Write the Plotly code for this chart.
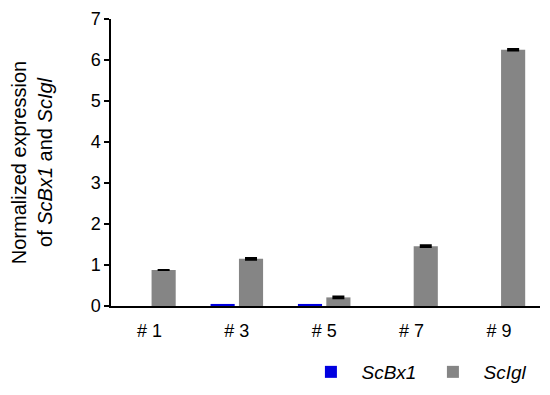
import plotly.graph_objects as go

categories = ["# 1", "# 3", "# 5", "# 7", "# 9"]
scbx1 = [0.0, 0.05, 0.05, 0.0, 0.0]
scigl = [0.88, 1.15, 0.21, 1.46, 6.25]
scigl_err = [0.0, 0.02, 0.02, 0.02, 0.02]

fig = go.Figure()
fig.add_trace(go.Bar(x=categories, y=scbx1, name="\u00a0\u00a0<i>ScBx1</i>",
                     marker=dict(color="#0000e0", line=dict(width=0))))
fig.add_trace(go.Bar(x=categories, y=scigl, name="\u00a0\u00a0<i>ScIgl</i>",
                     marker=dict(color="#858585", line=dict(width=0)),
                     error_y=dict(type="data", array=scigl_err, visible=True,
                                  color="black", thickness=2, width=6)))

fig.update_layout(
    width=542, height=387,
    margin=dict(l=103, r=10, t=11, b=89, autoexpand=False),
    paper_bgcolor="white", plot_bgcolor="white",
    barmode="group", bargap=0.35, bargroupgap=0.15,
    font=dict(family="Arial, Liberation Sans, sans-serif", size=18, color="black"),
    xaxis=dict(range=[-0.44, 4.47], showline=True, linecolor="black", linewidth=1.5,
               ticks="", showgrid=False, tickfont=dict(size=18), ticklabelstandoff=8,
               automargin=False),
    yaxis=dict(range=[0, 7], dtick=1, showline=True, linecolor="black", linewidth=1.5,
               ticks="outside", ticklen=5, tickwidth=1.5, tickcolor="black",
               showgrid=False, zeroline=False, tickfont=dict(size=18), automargin=False,
               title=dict(text="Normalized expression<br>of <i>ScBx1</i> and <i>ScIgl</i>",
                          font=dict(size=20), standoff=38)),
    legend=dict(orientation="h", x=0.466, xanchor="left", y=-0.23, yanchor="middle",
                font=dict(size=19), entrywidth=77, entrywidthmode="pixels",
                traceorder="normal", bgcolor="rgba(0,0,0,0)"),
    showlegend=True,
)

fig.write_html("out.html")
